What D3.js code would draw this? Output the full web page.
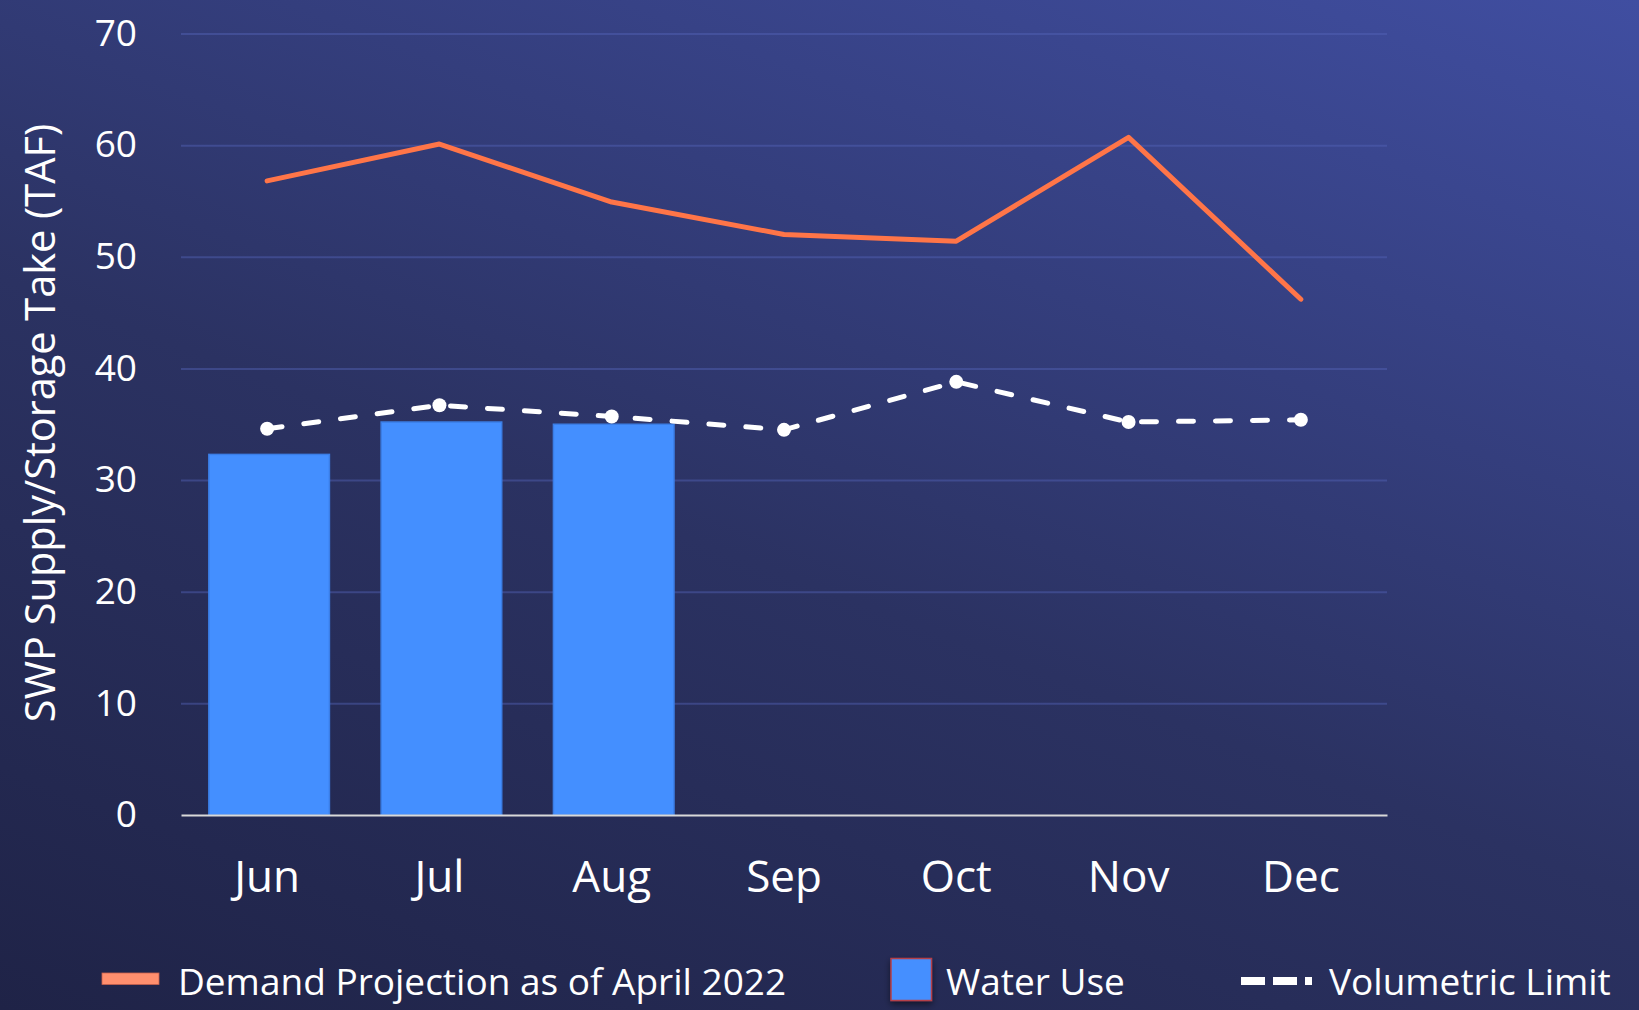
<!DOCTYPE html>
<html lang="en">
<head>
    <meta charset="UTF-8">
    <title>SWP Supply/Storage Take</title>
    <script src="https://d3js.org/d3.v7.min.js"></script>
    <style>
        html, body { margin: 0; padding: 0; background: #1f2448; }
        svg { display: block; }
        text { font-family: "Open Sans", sans-serif; fill: #ffffff; }
    </style>
</head>
<body>
<div id="chart"></div>

<script>
    // data
    var months = ["Jun", "Jul", "Aug", "Sep", "Oct", "Nov", "Dec"];
    var demand = [56.8, 60.1, 54.9, 52.0, 51.4, 60.7, 46.2];
    var volumetricLimit = [34.6, 36.7, 35.7, 34.5, 38.8, 35.2, 35.4];
    var waterUse = [32.3, 35.2, 35.0];
    var yTicks = [0, 10, 20, 30, 40, 50, 60, 70];
    var legendLabels = ["Demand Projection as of April 2022", "Water Use", "Volumetric Limit"];

    var W = 1639, H = 1010,
        plotLeft = 181, plotRight = 1387, plotTop = 33.5, plotBottom = 815;

    var svg = d3.select("#chart").append("svg")
        .attr("width", W)
        .attr("height", H);

    var defs = svg.append("defs");
    var bg = defs.append("linearGradient")
        .attr("id", "bg")
        .attr("gradientUnits", "userSpaceOnUse")
        .attr("x1", 0).attr("y1", H)
        .attr("x2", 538).attr("y2", -415);
    bg.append("stop").attr("offset", "0%").attr("stop-color", "#1f2347");
    bg.append("stop").attr("offset", "45%").attr("stop-color", "#2b3262");
    bg.append("stop").attr("offset", "100%").attr("stop-color", "#404ea1");

    var shadow = defs.append("filter").attr("id", "shadow")
        .attr("x", "-30%").attr("y", "-30%").attr("width", "160%").attr("height", "160%");
    shadow.append("feDropShadow")
        .attr("dx", 0).attr("dy", 3).attr("stdDeviation", 3)
        .attr("flood-color", "#000").attr("flood-opacity", 0.5);

    svg.append("rect")
        .attr("width", W).attr("height", H)
        .attr("fill", "url(#bg)");

    var x = d3.scaleBand()
        .domain(months)
        .range([plotLeft, plotRight]);

    var y = d3.scaleLinear()
        .domain([0, 70])
        .range([plotBottom, plotTop]);

    var cx = function (m) { return x(m) + x.bandwidth() / 2; };

    // y axis + gridlines
    var yAxis = svg.append("g")
        .attr("transform", "translate(" + plotLeft + ",0)")
        .call(d3.axisLeft(y).tickValues(yTicks).tickSize(-(plotRight - plotLeft)).tickPadding(44));
    yAxis.select(".domain").remove();
    yAxis.selectAll(".tick line")
        .attr("stroke", "#5563b8")
        .attr("stroke-opacity", 0.45)
        .attr("stroke-width", 2)
        .filter(function (d) { return d === 0; })
        .remove();
    yAxis.selectAll(".tick text")
        .attr("font-size", 37)
        .attr("font-family", "Open Sans")
        .attr("fill", "#fff");

    // bars
    var barW = x.bandwidth() * 0.7;
    svg.append("g").selectAll("rect")
        .data(waterUse)
        .join("rect")
        .attr("x", function (d, i) { return cx(months[i]) - barW / 2 + 2; })
        .attr("y", function (d) { return y(d); })
        .attr("width", barW)
        .attr("height", function (d) { return y(0) - y(d); })
        .attr("fill", "#448fff")
        .attr("stroke", "#3b7ee6")
        .attr("stroke-width", 1.5);

    // x axis
    var xAxis = svg.append("g")
        .attr("transform", "translate(0," + plotBottom + ")")
        .call(d3.axisBottom(x).tickSize(0).tickPadding(46));
    xAxis.select(".domain")
        .attr("stroke", "#d9d9d9")
        .attr("stroke-width", 2);
    xAxis.selectAll(".tick text")
        .attr("font-size", 44)
        .attr("font-family", "Open Sans")
        .attr("fill", "#fff");

    // demand projection line
    var line = d3.line()
        .x(function (d, i) { return cx(months[i]); })
        .y(function (d) { return y(d); });

    svg.append("path")
        .datum(demand)
        .attr("fill", "none")
        .attr("stroke", "#ff7548")
        .attr("stroke-width", 5)
        .attr("stroke-linejoin", "round")
        .attr("stroke-linecap", "round")
        .attr("d", line);

    // volumetric limit
    svg.append("path")
        .datum(volumetricLimit)
        .attr("fill", "none")
        .attr("stroke", "#fff")
        .attr("stroke-width", 5)
        .attr("stroke-dasharray", "15,22")
        .attr("stroke-linecap", "round")
        .attr("d", line);

    svg.append("g").selectAll("circle")
        .data(volumetricLimit)
        .join("circle")
        .attr("cx", function (d, i) { return cx(months[i]); })
        .attr("cy", function (d) { return y(d); })
        .attr("r", 7)
        .attr("fill", "#fff");

    // y title
    svg.append("text")
        .attr("transform", "translate(55,423) rotate(-90)")
        .attr("text-anchor", "middle")
        .attr("font-size", 41.5)
        .text("SWP Supply/Storage Take (TAF)");

    // legend
    var lg = svg.append("g");
    lg.append("rect")
        .attr("x", 102).attr("y", 973)
        .attr("width", 57).attr("height", 11.5)
        .attr("fill", "#ff8f6e")
        .attr("stroke", "#c8604c")
        .attr("stroke-width", 0.8);
    lg.append("text")
        .attr("x", 178).attr("y", 995)
        .attr("font-size", 37)
        .text(legendLabels[0]);

    lg.append("rect")
        .attr("x", 891).attr("y", 958.5)
        .attr("width", 40.5).attr("height", 42)
        .attr("fill", "#448fff")
        .attr("stroke", "#b5404a")
        .attr("stroke-width", 1.5)
        .attr("filter", "url(#shadow)");
    lg.append("text")
        .attr("x", 946).attr("y", 995)
        .attr("font-size", 37)
        .text(legendLabels[1]);

    lg.append("line")
        .attr("x1", 1241).attr("x2", 1312)
        .attr("y1", 981).attr("y2", 981)
        .attr("stroke", "#fff")
        .attr("stroke-width", 8)
        .attr("stroke-dasharray", "24,8");
    lg.append("text")
        .attr("x", 1329).attr("y", 995)
        .attr("font-size", 37)
        .text(legendLabels[2]);
</script>
</body>
</html>
